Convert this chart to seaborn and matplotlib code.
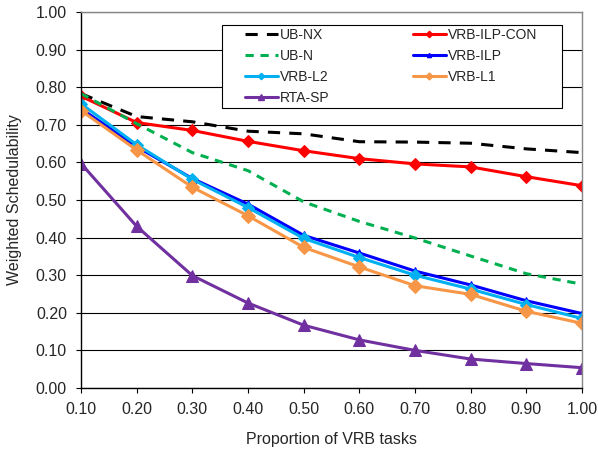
import pandas as pd
import matplotlib.pyplot as plt
import seaborn as sns
from matplotlib.lines import Line2D
from matplotlib.patches import Rectangle

# proportion of VRB tasks
proportion = [0.10, 0.20, 0.30, 0.40, 0.50, 0.60, 0.70, 0.80, 0.90, 1.00]

ub_nx = [0.783, 0.722, 0.708, 0.683, 0.676, 0.655, 0.654, 0.651, 0.636, 0.626]
vrb_ilp_con = [0.776, 0.706, 0.685, 0.656, 0.631, 0.610, 0.596, 0.588, 0.562, 0.538]
ub_n = [0.783, 0.703, 0.626, 0.578, 0.495, 0.443, 0.399, 0.351, 0.304, 0.276]
vrb_ilp = [0.743, 0.642, 0.557, 0.489, 0.406, 0.359, 0.311, 0.274, 0.232, 0.198]
vrb_l2 = [0.756, 0.647, 0.555, 0.480, 0.398, 0.347, 0.300, 0.263, 0.222, 0.185]
vrb_l1 = [0.738, 0.633, 0.534, 0.458, 0.374, 0.322, 0.272, 0.249, 0.204, 0.172]
rta_sp = [0.597, 0.430, 0.299, 0.226, 0.167, 0.128, 0.100, 0.077, 0.065, 0.054]

series = {
    'UB-NX': ub_nx,
    'VRB-ILP-CON': vrb_ilp_con,
    'UB-N': ub_n,
    'VRB-ILP': vrb_ilp,
    'VRB-L2': vrb_l2,
    'VRB-L1': vrb_l1,
    'RTA-SP': rta_sp,
}

# colour, marker, marker size, dashes
styles = {
    'UB-NX': ('#000000', None, 0, (4, 3)),
    'VRB-ILP-CON': ('#FF0000', 'D', 6.5, None),
    'UB-N': ('#00B050', None, 0, (2.7, 2.2)),
    'VRB-ILP': ('#0000FF', '^', 6, None),
    'VRB-L2': ('#00B0F0', 'D', 6.5, None),
    'VRB-L1': ('#F79646', 'D', 7, None),
    'RTA-SP': ('#7030A0', '^', 8, None),
}

rows = []
for name, vals in series.items():
    for x, y in zip(proportion, vals):
        rows.append({'proportion': x, 'value': y, 'series': name})
df = pd.DataFrame(rows)

sns.set_style("white")
plt.rcParams['font.family'] = ['Liberation Sans', 'DejaVu Sans']

fig = plt.figure(figsize=(5.98, 4.54), dpi=100)
ax = fig.add_axes([81 / 598, 66 / 454, 501 / 598, 376 / 454])

handles = {}
for name in series:
    color, marker, ms, dashes = styles[name]
    sub = df[df['series'] == name]
    sns.lineplot(data=sub, x='proportion', y='value', ax=ax, color=color,
                 marker=marker, markersize=ms, markeredgecolor=color,
                 linewidth=2.2, legend=False)
    line = ax.lines[-1]
    if dashes is not None:
        line.set_dashes(dashes)
    h = Line2D([], [], color=color, linewidth=2.2, marker=marker,
               markersize=ms * 0.5 if marker else 0, markeredgecolor=color)
    if dashes is not None:
        h.set_dashes(dashes)
    handles[name] = h

ax.set_xlim(0.1, 1.0)
ax.set_ylim(0.0, 1.0)
ax.set_xticks(proportion)
ax.set_xticklabels([f"{p:.2f}" for p in proportion])
yt = [i / 10 for i in range(11)]
ax.set_yticks(yt)
ax.set_yticklabels([f"{v:.2f}" for v in yt])
ax.tick_params(axis='both', direction='out', length=3.6, width=0.8, color='black',
               labelsize=11.5, pad=6.5, bottom=True, left=True)
ax.yaxis.grid(True, color='black', linewidth=0.8)
ax.xaxis.grid(False)
ax.set_axisbelow(True)

for side in ['left', 'bottom']:
    ax.spines[side].set_color('black')
    ax.spines[side].set_linewidth(1.0)
for side in ['top', 'right']:
    ax.spines[side].set_color('#868686')
    ax.spines[side].set_linewidth(1.0)

ax.set_xlabel('Proportion of VRB tasks', fontsize=11.5, labelpad=11)
ax.set_ylabel('Weighted Schedulability', fontsize=11.5, labelpad=10)

# legend box drawn separately, legend itself without frame
ax.add_patch(Rectangle((0.281, 0.745), 0.679, 0.220, transform=ax.transAxes,
                       facecolor='white', edgecolor='black', linewidth=0.8,
                       zorder=4))

# legend filled column by column, so reorder to read row by row
order = ['UB-NX', 'UB-N', 'VRB-L2', 'RTA-SP', 'VRB-ILP-CON', 'VRB-ILP', 'VRB-L1']
leg = ax.legend([handles[n] for n in order], order, ncol=2,
                loc='upper left', bbox_to_anchor=(0.327, 0.50, 0.583, 0.457),
                mode='expand', fontsize=10, frameon=False,
                handlelength=2.4, handletextpad=0.1, labelspacing=0.5,
                borderpad=0, borderaxespad=0)
leg.set_zorder(5)

plt.savefig('out.png', dpi=100)
plt.close()
